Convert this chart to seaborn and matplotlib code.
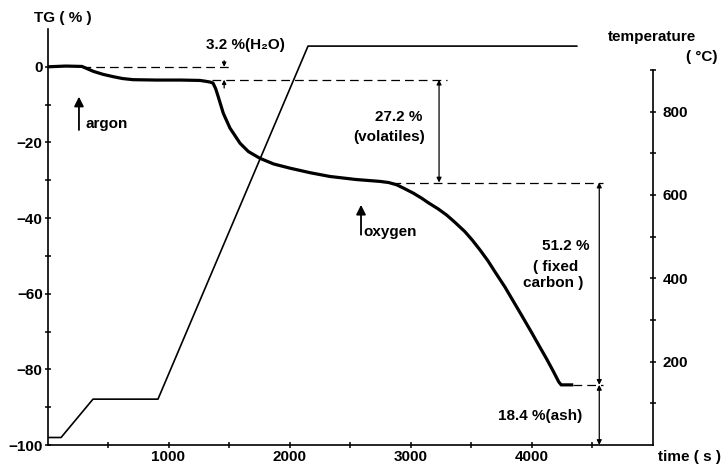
import matplotlib
matplotlib.use("Agg")
import matplotlib.pyplot as plt
import seaborn as sns
import pandas as pd

# ---------------- data ----------------
time_tg = [0, 150, 285, 379, 460, 542, 620, 707, 900, 1100, 1260, 1302, 1340,
           1368, 1390, 1410, 1453, 1508, 1591, 1660, 1756, 1870, 2004, 2170,
           2335, 2550, 2748, 2820, 2886, 2950, 3023, 3090, 3150, 3230, 3299,
           3370, 3450, 3510, 3574, 3640, 3700, 3780, 3850, 3920, 4000, 4060,
           4126, 4180, 4225, 4245, 4345]
tg_values = [0, 0.2, 0.1, -1.2, -2.0, -2.6, -3.1, -3.4, -3.5, -3.5, -3.6, -3.8,
             -4.0, -4.3, -5.8, -7.8, -12.3, -16.2, -20.2, -22.4, -24.2, -25.7,
             -26.8, -28.0, -29.0, -29.8, -30.3, -30.6, -31.2, -32.2, -33.4,
             -34.7, -36.0, -37.6, -39.2, -41.2, -43.6, -45.8, -48.4, -51.3,
             -54.3, -58.2, -62.0, -65.8, -70.2, -73.6, -77.3, -80.5, -83.3,
             -84.1, -84.1]

time_temp = [0, 112, 376, 913, 2153, 4376]
temp_values = [18, 18, 110, 110, 957, 957]

level_dry = -3.4        # after water loss
level_volatile = -30.6  # after volatiles
level_ash = -84.1       # residue

tg_ticks = [-100, -80, -60, -40, -20, 0]
tg_minor = [-90, -70, -50, -30, -10]
time_ticks = [1000, 2000, 3000, 4000]
time_minor = [500, 1500, 2500, 3500, 4500]
temp_ticks = [200, 400, 600, 800]
temp_minor = [100, 300, 500, 700, 900]

df_tg = pd.DataFrame({"time": time_tg, "TG": tg_values})
df_temp = pd.DataFrame({"time": time_temp, "T": temp_values})

# ---------------- style ----------------
sns.set_style("ticks")
plt.rcParams["font.family"] = ["Liberation Sans", "DejaVu Sans"]
plt.rcParams["font.weight"] = "bold"
plt.rcParams["font.size"] = 11

W, H = 723, 465
fig = plt.figure(figsize=(W / 100, H / 100), dpi=100)
ax = fig.add_axes([47.5 / W, 20 / H, 605 / W, 416 / H])
ax2 = ax.twinx()
ax.set_position([47.5 / W, 20 / H, 605 / W, 416 / H])
ax2.set_position([47.5 / W, 20 / H, 605 / W, 416 / H])

sns.lineplot(data=df_tg, x="time", y="TG", ax=ax, color="black", lw=2.3,
             estimator=None, sort=False, solid_joinstyle="round",
             solid_capstyle="butt")
sns.lineplot(data=df_temp, x="time", y="T", ax=ax2, color="black", lw=1.2,
             estimator=None, sort=False)

ax.set_xlim(0, 5000)
ax.set_ylim(-100, 10)
ax2.set_ylim(0, 998)
ax.set_xlabel("")
ax.set_ylabel("")
ax2.set_ylabel("")

# spines
for s in ["top", "right"]:
    ax.spines[s].set_visible(False)
for s in ["top", "left", "bottom"]:
    ax2.spines[s].set_visible(False)
ax2.spines["right"].set_bounds(0, 900)
for sp in [ax.spines["left"], ax.spines["bottom"], ax2.spines["right"]]:
    sp.set_linewidth(1.2)
    sp.set_color("black")

# ticks
ax.set_yticks(tg_ticks)
ax.set_yticks(tg_minor, minor=True)
ax.set_xticks(time_ticks)
ax.set_xticks(time_minor, minor=True)
ax2.set_yticks(temp_ticks)
ax2.set_yticks(temp_minor, minor=True)
for a in (ax, ax2):
    a.tick_params(which="both", direction="inout", length=5, width=1.1,
                  colors="black", labelsize=11)
ax.tick_params(axis="y", pad=1)
ax.tick_params(axis="x", pad=1)
ax2.tick_params(axis="y", pad=5)
for lab in ax.get_xticklabels() + ax.get_yticklabels() + ax2.get_yticklabels():
    lab.set_fontweight("bold")

# dashed level lines
dash = dict(color="black", lw=0.9, ls=(0, (7, 4)))
ax.plot([285, 1530], [0, 0], **dash)
ax.plot([1360, 3300], [level_dry, level_dry], **dash)
ax.plot([2850, 4590], [level_volatile, level_volatile], **dash)
ax.plot([4345, 4590], [level_ash, level_ash], **dash)

# measurement arrows
darrow = dict(arrowstyle="<|-|>", color="black", lw=0.9,
              mutation_scale=7, shrinkA=0, shrinkB=0)
ax.annotate("", xy=(3236, level_dry), xytext=(3236, level_volatile),
            arrowprops=darrow)
ax.annotate("", xy=(4560, level_volatile), xytext=(4560, level_ash),
            arrowprops=darrow)
ax.annotate("", xy=(4560, level_ash), xytext=(4560, -100),
            arrowprops=darrow)
sarrow = dict(arrowstyle="-|>", color="black", lw=0.9,
              mutation_scale=6, shrinkA=0, shrinkB=0)
ax.annotate("", xy=(1460, 0), xytext=(1460, 1.6), arrowprops=sarrow,
            annotation_clip=False)
ax.annotate("", xy=(1460, level_dry), xytext=(1460, -5.6), arrowprops=sarrow)

# gas switch arrows
garrow = dict(arrowstyle="-|>", color="black", lw=1.3,
              mutation_scale=14, shrinkA=0, shrinkB=0)
ax.annotate("", xy=(260, -7.9), xytext=(260, -16.7), arrowprops=garrow)
ax.annotate("", xy=(2591, -36.5), xytext=(2591, -44.4), arrowprops=garrow)

tk = dict(fontsize=11, fontweight="bold", color="black")
ax.text(310, -15.1, "argon", ha="left", va="center", **tk)
ax.text(2607, -43.7, "oxygen", ha="left", va="center", **tk)
ax.text(1632, 5.8, "3.2 %(H₂O)", ha="center", va="center", **tk)
ax.text(2901, -13.2, "27.2 %", ha="center", va="center", **tk)
ax.text(2822, -18.5, "(volatiles)", ha="center", va="center", **tk)
ax.text(4281, -47.4, "51.2 %", ha="center", va="center", **tk)
ax.text(4197, -53.0, "( fixed", ha="center", va="center", **tk)
ax.text(4183, -57.2, "carbon )", ha="center", va="center", **tk)
ax.text(4070, -92.3, "18.4 %(ash)", ha="center", va="center", **tk)

fig.text(62.5 / W, 1 - 18 / H, "TG ( % )", ha="center", va="center", **tk)
fig.text(652.5 / W, 1 - 37 / H, "temperature", ha="center", va="center", **tk)
fig.text(718 / W, 1 - 57 / H, "( °C)", ha="right", va="center", **tk)
fig.text(689.5 / W, 1 - 456.5 / H, "time ( s )", ha="center", va="center", **tk)

fig.savefig("out.png", dpi=100)
